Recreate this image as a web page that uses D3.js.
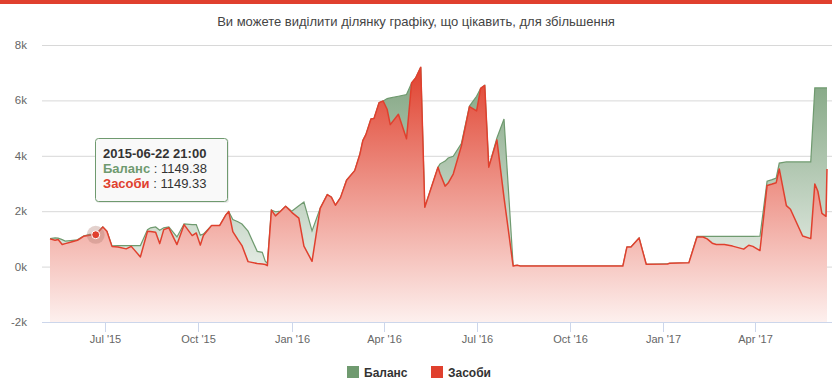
<!DOCTYPE html>
<html>
<head>
<meta charset="utf-8">
<script src="https://cdn.jsdelivr.net/npm/d3@7"></script>
<style>
  body { margin: 0; background: #fff; }
  text { font-family: "Liberation Sans", Arial, sans-serif; }
</style>
</head>
<body>
<div id="chart"></div>
<script>
// dates of the readings
var dates = [
  "2015-05-08","2015-05-13","2015-05-16","2015-05-20","2015-05-23","2015-05-28","2015-06-04","2015-06-10","2015-06-16","2015-06-22",
  "2015-06-29","2015-07-03","2015-07-08","2015-07-14","2015-07-22","2015-07-27","2015-08-05","2015-08-12","2015-08-15","2015-08-20",
  "2015-08-24","2015-08-28","2015-09-02","2015-09-10","2015-09-17","2015-09-25","2015-09-29","2015-10-03","2015-10-06","2015-10-14",
  "2015-10-22","2015-10-28","2015-10-31","2015-11-04","2015-11-09","2015-11-13","2015-11-19","2015-11-28","2015-12-03","2015-12-06",
  "2015-12-08","2015-12-12","2015-12-16","2015-12-21","2015-12-26","2016-01-01","2016-01-08","2016-01-13","2016-01-21","2016-01-29",
  "2016-02-05","2016-02-09","2016-02-13","2016-02-18","2016-02-24","2016-03-03","2016-03-08","2016-03-11","2016-03-14","2016-03-19",
  "2016-03-22","2016-03-27","2016-03-31","2016-04-04","2016-04-07","2016-04-15","2016-04-23","2016-04-28","2016-05-02","2016-05-07",
  "2016-05-11","2016-05-24","2016-05-26","2016-05-31","2016-06-03","2016-06-08","2016-06-16","2016-06-24","2016-07-01","2016-07-05",
  "2016-07-09","2016-07-13","2016-07-21","2016-07-28","2016-08-06","2016-08-10","2016-08-13","2016-11-22","2016-11-26","2016-11-30",
  "2016-12-08","2016-12-15","2017-01-05","2017-01-07","2017-01-26","2017-02-03","2017-02-09","2017-02-13","2017-02-18","2017-02-22",
  "2017-03-02","2017-03-10","2017-03-21","2017-03-26","2017-03-30","2017-04-06","2017-04-13","2017-04-18","2017-04-22","2017-04-25",
  "2017-05-02","2017-05-06","2017-05-18","2017-05-26","2017-05-30","2017-06-02","2017-06-06","2017-06-10","2017-06-11"
];
// Баланс
var balance = [
  1010,1040,1030,975,920,940,965,1100,1160,1149.38,
  1430,1275,750,760,760,760,760,1335,1400,1430,
  1310,1400,1430,1070,1545,1515,1515,1135,1175,1480,
  1480,1860,1985,1700,1620,1535,1280,550,515,190,
  125,2040,1980,2000,2180,2000,2200,2330,1290,2105,
  2600,2510,2215,2490,3120,3465,4045,4550,4765,5330,
  5350,5920,5980,6065,6090,6150,6210,6630,6810,7195,
  2140,3585,3710,3810,3920,3980,4440,5795,6150,6435,
  6540,3590,4645,5330,35,45,20,20,705,710,
  1035,85,95,120,135,1090,1090,1090,1090,1090,
  1090,1090,1090,1090,1090,1095,3080,3140,3200,3735,
  3780,3780,3780,3780,6450,6450,6450,6450,6450
];
// Засоби
var funds = [
  1000,950,975,795,830,880,950,1095,1130,1149.33,
  1430,1275,730,710,640,730,350,1275,1265,1240,
  830,1335,1400,795,1515,1120,1215,775,1120,1480,
  1480,1860,1985,1265,975,760,180,110,90,75,
  35,2040,1830,2000,2180,1960,1750,740,190,2105,
  2600,2510,2215,2490,3120,3465,4045,4550,4765,5330,
  5350,5920,5980,5670,5125,5500,4615,6630,6810,7195,
  2140,3585,3360,2905,3015,3340,4350,5775,5620,6435,
  6540,3590,4575,2490,20,45,20,20,705,710,
  1035,85,95,120,135,1070,1070,1000,845,795,
  795,740,630,770,730,580,2930,2980,3030,3525,
  2200,2070,1105,1010,2985,2720,1920,1815,3525
];
var seriesNames = ["Баланс", "Засоби"];
var seriesColors = ["#6f9a6f", "#e0402e"];
var yTicks = [-2000, 0, 2000, 4000, 6000, 8000];
var titleText = "Ви можете виділити ділянку графіку, що цікавить, для збільшення";
var hoverDate = "2015-06-22";
var hoverLabel = "2015-06-22 21:00";

var width = 832, height = 385;
var plotLeft = 42, plotRight = 832;

var svg = d3.select("#chart").append("svg")
    .attr("width", width)
    .attr("height", height);

var parse = d3.timeParse("%Y-%m-%d");
var data = dates.map(function(d, i) {
  return { date: parse(d), g: balance[i], r: funds[i] };
});

var x = d3.scaleTime()
    .domain(d3.extent(data, function(d) { return d.date; }))
    .range([50, 827]);
var y = d3.scaleLinear().domain([-2000, 8000]).range([322, 45]);

// top band
svg.append("rect").attr("x", 0).attr("y", 0).attr("width", width).attr("height", 4)
   .attr("fill", seriesColors[1]);

// title
svg.append("text")
   .attr("x", width / 2).attr("y", 26)
   .attr("text-anchor", "middle")
   .attr("font-size", "13px")
   .attr("fill", "#444")
   .text(titleText);

// gradients
var defs = svg.append("defs");
function grad(id, color, top, bottom) {
  var g = defs.append("linearGradient").attr("id", id)
     .attr("gradientUnits", "userSpaceOnUse")
     .attr("x1", 0).attr("x2", 0).attr("y1", top).attr("y2", y(-2000));
  g.append("stop").attr("offset", 0).attr("stop-color", color);
  g.append("stop").attr("offset", 1).attr("stop-color", bottom);
}
grad("gGreen", "#7fa37f", y(d3.max(balance)), "#fff");
grad("gRed", "#e0422f", y(d3.max(funds)), "#fdf0ee");

// grid lines
svg.append("g")
   .selectAll("line").data(yTicks.filter(function(t) { return t > -2000; }))
   .enter().append("line")
   .attr("x1", plotLeft).attr("x2", plotRight)
   .attr("y1", function(d) { return y(d) + 0.5; })
   .attr("y2", function(d) { return y(d) + 0.5; })
   .attr("stroke", "#d8d8d8");

// y labels
svg.append("g")
   .selectAll("text").data(yTicks)
   .enter().append("text")
   .attr("x", 27).attr("y", function(d) { return y(d) + 4; })
   .attr("text-anchor", "end")
   .attr("font-size", "11.5px")
   .attr("fill", "#666")
   .text(function(d) { return (d / 1000) + "k"; });

// areas
var areaG = d3.area()
    .x(function(d) { return x(d.date); })
    .y0(y(-2000))
    .y1(function(d) { return y(d.g); });
var areaR = d3.area()
    .x(function(d) { return x(d.date); })
    .y0(y(-2000))
    .y1(function(d) { return y(d.r); });
var lineG = d3.line()
    .x(function(d) { return x(d.date); })
    .y(function(d) { return y(d.g); });
var lineR = d3.line()
    .x(function(d) { return x(d.date); })
    .y(function(d) { return y(d.r); });

svg.append("path").datum(data).attr("d", areaG).attr("fill", "url(#gGreen)");
svg.append("path").datum(data).attr("d", lineG)
   .attr("fill", "none").attr("stroke", seriesColors[0]).attr("stroke-width", 1.2);
svg.append("path").datum(data).attr("d", areaR).attr("fill", "url(#gRed)");
svg.append("path").datum(data).attr("d", lineR)
   .attr("fill", "none").attr("stroke", seriesColors[1]).attr("stroke-width", 1.5)
   .attr("stroke-linejoin", "round");

// x axis
svg.append("line")
   .attr("x1", plotLeft).attr("x2", plotRight)
   .attr("y1", y(-2000) + 0.5).attr("y2", y(-2000) + 0.5)
   .attr("stroke", "#ccd6eb");
var xTicks = x.ticks(d3.timeMonth.every(3));
var xt = svg.append("g").selectAll("g").data(xTicks).enter().append("g")
   .attr("transform", function(d) { return "translate(" + (Math.round(x(d)) + 0.5) + ",0)"; });
xt.append("line").attr("y1", y(-2000)).attr("y2", y(-2000) + 10).attr("stroke", "#ccd6eb");
xt.append("text").attr("y", 343).attr("text-anchor", "middle")
   .attr("font-size", "11px").attr("fill", "#666")
   .text(d3.timeFormat("%b '%y"));

// hovered point
var hp = data.find(function(d) { return d.date.getTime() === parse(hoverDate).getTime(); });
svg.append("circle").attr("cx", x(hp.date)).attr("cy", y(hp.r)).attr("r", 9)
   .attr("fill", "#b07a70").attr("fill-opacity", 0.35);
svg.append("circle").attr("cx", x(hp.date)).attr("cy", y(hp.r)).attr("r", 4)
   .attr("fill", seriesColors[1]).attr("stroke", "#fff").attr("stroke-width", 1);

// legend
var legend = svg.append("g");
var legX = [347, 431];
seriesNames.forEach(function(name, i) {
  legend.append("rect").attr("x", legX[i]).attr("y", 366).attr("width", 12).attr("height", 12)
        .attr("fill", seriesColors[i]);
  legend.append("text").attr("x", legX[i] + 17).attr("y", 377)
        .attr("font-size", "12px").attr("font-weight", "bold").attr("fill", "#333")
        .text(name);
});

// tooltip
var tip = svg.append("g").attr("transform", "translate(95,138)");
tip.append("rect").attr("x", 1).attr("y", 1).attr("width", 133).attr("height", 64).attr("rx", 3)
   .attr("fill", "#000").attr("opacity", 0.08);
tip.append("rect").attr("x", 0.5).attr("y", 0.5).attr("width", 132).attr("height", 63).attr("rx", 3)
   .attr("fill", "#f9f9f9").attr("stroke", seriesColors[0]);
tip.append("text").attr("x", 8).attr("y", 20)
   .attr("font-size", "13px").attr("font-weight", "bold").attr("fill", "#333")
   .text(hoverLabel);
[hp.g, hp.r].forEach(function(v, i) {
  var t = tip.append("text").attr("x", 8).attr("y", 35 + i * 14.5).attr("font-size", "13px");
  t.append("tspan").attr("font-weight", "bold").attr("fill", seriesColors[i]).text(seriesNames[i]);
  t.append("tspan").attr("fill", "#333").text(" : " + v.toFixed(2));
});
</script>
</body>
</html>
